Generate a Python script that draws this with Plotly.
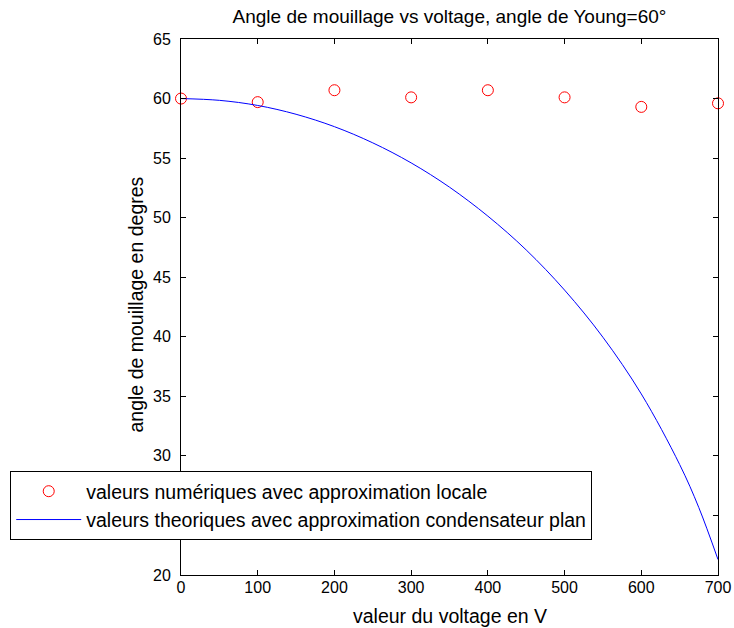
import plotly.graph_objects as go

# numerical values (red circles)
volt_num = [0, 100, 200, 300, 400, 500, 600, 700]
angle_num = [60.0, 59.7, 60.7, 60.1, 60.7, 60.1, 59.3, 59.6]

# theoretical curve (blue line)
volt_th = [0, 50, 100, 150, 200, 250, 300, 350, 400, 450, 500, 550, 600, 650, 675, 700]
angle_th = [60.0, 59.85, 59.42, 58.68, 57.64, 56.28, 54.60, 52.56, 50.13, 47.29,
            43.92, 39.96, 35.20, 29.28, 25.66, 21.3]

x_ticks = [0, 100, 200, 300, 400, 500, 600, 700]
y_ticks = [20, 25, 30, 35, 40, 45, 50, 55, 60, 65]

font = "Liberation Sans, Arial, Helvetica, sans-serif"

fig = go.Figure()
fig.add_trace(go.Scatter(
    x=volt_num, y=angle_num, mode="markers",
    marker=dict(symbol="circle-open", size=11, color="#ff0000", line=dict(width=1, color="#ff0000")),
    name="valeurs numériques avec approximation locale", cliponaxis=False))
fig.add_trace(go.Scatter(
    x=volt_th, y=angle_th, mode="lines", line=dict(color="#0000ff", width=1, shape="spline"),
    name="valeurs theoriques avec approximation condensateur plan"))

axis_common = dict(showgrid=False, zeroline=False, showline=True, linecolor="black", linewidth=1,
                   mirror="ticks", ticks="inside", ticklen=5, tickcolor="black", automargin=False,
                   tickfont=dict(size=16, color="black", family=font))

fig.update_layout(
    width=734, height=628,
    margin=dict(l=181, r=16, t=39, b=53, autoexpand=False),
    paper_bgcolor="white", plot_bgcolor="white",
    font=dict(family=font, color="black"),
    title=dict(text="Angle de mouillage vs voltage, angle de Young=60°",
               x=0.5, xanchor="center", xref="paper",
               y=1 - 16 / 628, yanchor="middle", yref="container",
               font=dict(size=19, color="black", family=font)),
    xaxis=dict(range=[0, 700], tickvals=x_ticks, ticklabelstandoff=-2, **axis_common),
    yaxis=dict(range=[20, 65], tickvals=y_ticks, ticklabelstandoff=6, **axis_common),
    legend=dict(x=-0.318, y=0.194, xanchor="left", yanchor="top", bgcolor="white",
                bordercolor="black", borderwidth=1, font=dict(size=19.5, color="black", family=font),
                itemwidth=65, tracegroupgap=0),
    showlegend=True,
    annotations=[
        dict(text="valeur du voltage en V", xref="paper", yref="paper", x=0.5, y=(575 - 616) / 536,
             xanchor="center", yanchor="middle", showarrow=False,
             font=dict(size=19.5, color="black", family=font)),
        dict(text="angle de mouillage en degres", xref="paper", yref="paper",
             x=(135.5 - 181) / 537, y=(575 - 305) / 536, textangle=-90,
             xanchor="center", yanchor="middle", showarrow=False,
             font=dict(size=19.5, color="black", family=font)),
    ],
)

fig.write_html("out.html", config={"displayModeBar": False},
               post_script="document.body.style.margin='0';document.body.style.overflow='hidden';")
